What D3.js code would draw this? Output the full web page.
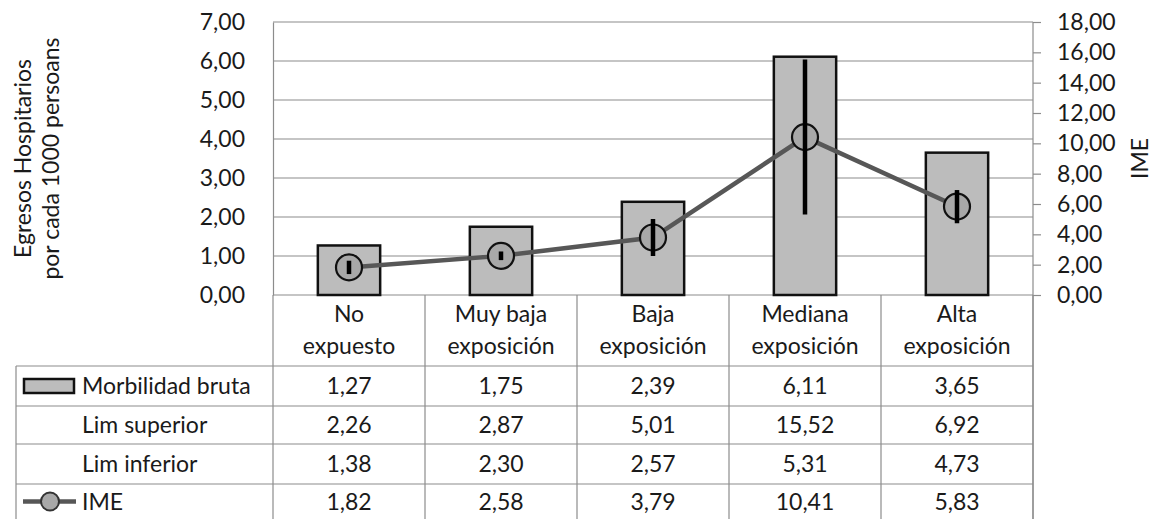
<!DOCTYPE html>
<html>
<head>
<meta charset="utf-8">
<script src="https://cdn.jsdelivr.net/npm/d3@7"></script>
<style>
  body { margin: 0; background: #fff; }
  text { font-family: Lato, "Open Sans", sans-serif; fill: #1a1a1a; }
</style>
</head>
<body>
<div id="chart"></div>
<script>
const categorias = [["No", "expuesto"], ["Muy baja", "exposición"], ["Baja", "exposición"], ["Mediana", "exposición"], ["Alta", "exposición"]];
const morbilidad = [1.27, 1.75, 2.39, 6.11, 3.65];
const limSuperior = [2.26, 2.87, 5.01, 15.52, 6.92];
const limInferior = [1.38, 2.30, 2.57, 5.31, 4.73];
const ime = [1.82, 2.58, 3.79, 10.41, 5.83];
const filas = ["Morbilidad bruta", "Lim superior", "Lim inferior", "IME"];
const ticksIzq = [0, 1, 2, 3, 4, 5, 6, 7];
const ticksDer = [0, 2, 4, 6, 8, 10, 12, 14, 16, 18];

const W = 1156, H = 519;
const pLeft = 273, pRight = 1033, pTop = 22, pBottom = 295;
const rowTops = [366, 406, 444, 484, 519];
const tableLeft = 16;
const grid = '#8c8c8c';
const fs = 23;

const es = d3.formatLocale({ decimal: ",", thousands: ".", grouping: [3], currency: ["", ""] });
const fmt = es.format(".2f");

const svg = d3.select('#chart').append('svg')
    .attr('width', W)
    .attr('height', H);

const keys = categorias.map(c => c.join(' '));
const x = d3.scaleBand(keys, [pLeft, pRight]).paddingInner(0.59).paddingOuter(0.295);
const step = x.step();
const yL = d3.scaleLinear([0, 7], [pBottom, pTop]);
const yR = d3.scaleLinear([0, 18], [pBottom, pTop]);

// lineas de la grilla
svg.append('g')
    .selectAll('line')
    .data(ticksIzq)
    .enter().append('line')
    .attr('x1', pLeft).attr('x2', pRight)
    .attr('y1', d => yL(d)).attr('y2', d => yL(d))
    .attr('stroke', grid)
    .attr('stroke-width', 1.2);

// eje izquierdo
const axL = svg.append('g')
    .attr('transform', `translate(${pLeft},0)`)
    .call(d3.axisLeft(yL).tickValues(ticksIzq).tickFormat(fmt).tickSize(0).tickPadding(28));
axL.select('.domain').attr('stroke', grid).attr('stroke-width', 1.2);
axL.selectAll('text').style('font-size', fs + 'px').style('font-family', 'Lato, sans-serif').attr('fill', '#1a1a1a');

// eje derecho, baja hasta el final de la tabla
const axR = svg.append('g')
    .attr('transform', `translate(${pRight},0)`)
    .call(d3.axisRight(yR).tickValues(ticksDer).tickFormat(fmt).tickSize(8).tickSizeOuter(0).tickPadding(16));
axR.select('.domain').remove();
axR.selectAll('.tick line').attr('stroke', grid).attr('stroke-width', 1.2);
axR.selectAll('text').style('font-size', fs + 'px').style('font-family', 'Lato, sans-serif').attr('fill', '#1a1a1a');
svg.append('line')
    .attr('x1', pRight).attr('x2', pRight)
    .attr('y1', pTop).attr('y2', H)
    .attr('stroke', grid).attr('stroke-width', 1.2);

// barras
svg.append('g')
    .selectAll('rect')
    .data(morbilidad)
    .enter().append('rect')
    .attr('x', (d, i) => x(keys[i]))
    .attr('y', d => yL(d))
    .attr('width', x.bandwidth())
    .attr('height', d => yL(0) - yL(d))
    .attr('fill', '#bcbcbc')
    .attr('stroke', '#111')
    .attr('stroke-width', 2.5);

// linea IME
const cx = i => x(keys[i]) + x.bandwidth() / 2;
svg.append('path')
    .datum(ime)
    .attr('d', d3.line().x((d, i) => cx(i)).y(d => yR(d)))
    .attr('fill', 'none')
    .attr('stroke', '#575757')
    .attr('stroke-width', 4.5);

svg.append('g')
    .selectAll('circle')
    .data(ime)
    .enter().append('circle')
    .attr('cx', (d, i) => cx(i))
    .attr('cy', d => yR(d))
    .attr('r', 13)
    .attr('fill', '#a8a8a8')
    .attr('stroke', '#111')
    .attr('stroke-width', 2.2);

// intervalos
svg.append('g')
    .selectAll('line')
    .data(ime)
    .enter().append('line')
    .attr('x1', (d, i) => cx(i)).attr('x2', (d, i) => cx(i))
    .attr('y1', (d, i) => yR(limSuperior[i]))
    .attr('y2', (d, i) => yR(limInferior[i]))
    .attr('stroke', '#000')
    .attr('stroke-width', 4.5);

// tabla
const tabla = svg.append('g');
const bordes = d3.range(keys.length + 1).map(i => pLeft + i * step);
tabla.selectAll('line.v')
    .data(bordes)
    .enter().append('line')
    .attr('class', 'v')
    .attr('x1', d => d).attr('x2', d => d)
    .attr('y1', pBottom).attr('y2', H)
    .attr('stroke', grid).attr('stroke-width', 1.2);
tabla.append('line')
    .attr('x1', tableLeft).attr('x2', tableLeft)
    .attr('y1', rowTops[0]).attr('y2', H)
    .attr('stroke', grid).attr('stroke-width', 1.2);
tabla.selectAll('line.h')
    .data(rowTops.slice(0, 4))
    .enter().append('line')
    .attr('class', 'h')
    .attr('x1', tableLeft).attr('x2', pRight)
    .attr('y1', d => d).attr('y2', d => d)
    .attr('stroke', grid).attr('stroke-width', 1.2);

// encabezados
categorias.forEach((c, i) => {
    c.forEach((t, j) => {
        tabla.append('text')
            .attr('x', cx(i))
            .attr('y', 314 + j * 32)
            .attr('dy', '0.35em')
            .attr('text-anchor', 'middle')
            .style('font-size', fs + 'px')
            .text(t);
    });
});

const valores = [morbilidad, limSuperior, limInferior, ime];
valores.forEach((serie, r) => {
    const yc = (rowTops[r] + rowTops[r + 1]) / 2;
    tabla.append('text')
        .attr('x', 82)
        .attr('y', yc)
        .attr('dy', '0.35em')
        .style('font-size', fs + 'px')
        .text(filas[r]);
    serie.forEach((v, i) => {
        tabla.append('text')
            .attr('x', cx(i))
            .attr('y', yc)
            .attr('dy', '0.35em')
            .attr('text-anchor', 'middle')
            .style('font-size', fs + 'px')
            .text(fmt(v));
    });
});

// leyenda dentro de la tabla
const yMorb = (rowTops[0] + rowTops[1]) / 2;
tabla.append('rect')
    .attr('x', 24).attr('y', yMorb - 7)
    .attr('width', 50).attr('height', 14)
    .attr('fill', '#bcbcbc')
    .attr('stroke', '#111')
    .attr('stroke-width', 2.5);
const yIme = (rowTops[3] + rowTops[4]) / 2;
tabla.append('line')
    .attr('x1', 23).attr('x2', 76)
    .attr('y1', yIme).attr('y2', yIme)
    .attr('stroke', '#575757').attr('stroke-width', 4.5);
tabla.append('circle')
    .attr('cx', 50).attr('cy', yIme).attr('r', 9)
    .attr('fill', '#a8a8a8').attr('stroke', '#333').attr('stroke-width', 2);

// titulos de ejes
const tituloY = svg.append('text')
    .attr('transform', `translate(38,${(pTop + pBottom) / 2}) rotate(-90)`)
    .attr('text-anchor', 'middle')
    .style('font-size', fs + 'px');
tituloY.append('tspan').attr('x', 0).attr('dy', '-0.3em').text('Egresos Hospitarios');
tituloY.append('tspan').attr('x', 0).attr('dy', '1.2em').text('por cada 1000 persoans');

svg.append('text')
    .attr('transform', `translate(1140,${(pTop + pBottom) / 2}) rotate(-90)`)
    .attr('text-anchor', 'middle')
    .attr('dy', '0.35em')
    .style('font-size', fs + 'px')
    .text('IME');
</script>
</body>
</html>
